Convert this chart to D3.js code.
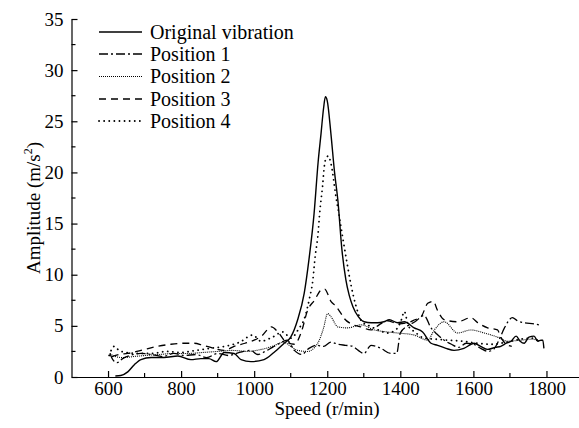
<!DOCTYPE html>
<html><head><meta charset="utf-8">
<script src="https://cdn.jsdelivr.net/npm/d3@7"></script>
<style>body{margin:0;background:#fff}svg{display:block}svg text{font-family:'Liberation Serif','Times New Roman','DejaVu Serif',serif !important;fill:#000}</style>
</head><body><svg id="c" width="579" height="428"></svg>
<script>
const seriesNames = ["Original vibration", "Position 1", "Position 2", "Position 3", "Position 4"];
const xTicks = [600, 800, 1000, 1200, 1400, 1600, 1800];
const yTicks = [0, 5, 10, 15, 20, 25, 30, 35];

const speedOrig = [620,635,654,672,690,718,753,791,827,854,876,896,918,945,964,991,1027,1054,1082,1100,1119,1137,1150,1164,1175,1183,1190,1195,1200,1210,1220,1229,1240,1251,1260,1270,1285,1301,1320,1338,1355,1370,1393,1411,1438,1461,1484,1502,1525,1547,1574,1602,1620,1639,1660,1675,1690,1703,1717,1728,1739,1752,1766,1776,1785,1790,1793];
const ampOrig = [0.1,0.15,0.5,1.2,1.7,1.9,1.9,2.05,1.7,1.8,1.8,1.5,2.4,2.3,1.7,1.5,1.7,2.4,3.3,3.9,5.6,8.2,11.5,16,21,23.8,26.3,27.4,27.0,23.8,20,17.3,12.5,9.5,8.0,6.9,5.9,5.4,5.3,5.3,5.4,5.6,5.3,5.4,4.8,4.4,3.3,3.1,2.8,2.6,2.8,3.3,3.0,2.7,2.9,3.0,3.3,3.5,4.0,3.5,3.3,3.9,4.0,3.5,3.6,3.6,2.8];

const speedP1 = [605,615,625,640,660,690,720,750,780,810,840,870,900,930,960,990,1010,1030,1050,1070,1090,1110,1130,1150,1170,1190,1210,1230,1250,1270,1285,1300,1320,1347,1374,1390,1400,1420,1440,1465,1484,1500,1520,1540,1560,1580,1600,1620,1640,1655,1670,1685,1707,1720,1739,1766,1780];
const ampP1 = [2.3,1.6,1.4,1.8,2.1,2.3,2.2,2.0,2.3,2.1,2.2,1.9,2.3,2.1,2.4,2.6,2.2,2.5,2.9,3.3,3.6,2.6,2.2,2.8,3.1,3.0,3.4,3.2,3.1,3.0,2.6,2.3,3.1,2.8,2.3,2.3,4.3,5.0,5.4,6.0,4.8,4.2,3.6,3.2,2.9,3.3,3.2,2.8,2.5,2.7,3.6,4.8,5.8,5.5,5.3,5.2,5.1];

const speedP2 = [605,620,640,670,700,740,780,820,860,900,940,980,1020,1050,1080,1100,1119,1146,1174,1190,1201,1210,1229,1256,1292,1329,1365,1393,1438,1475,1493,1520,1557,1593,1630,1666,1694,1730,1760,1780];
const ampP2 = [2.3,2.0,1.9,2.0,2.1,2.2,2.3,2.3,2.4,2.5,2.6,2.5,2.7,3.0,3.4,3.0,2.6,2.5,3.3,4.8,6.2,5.9,4.9,4.8,5.1,4.6,4.4,4.3,4.1,3.6,4.6,5.4,4.3,4.6,4.3,3.9,3.5,3.6,3.7,3.5];

const speedP3 = [610,630,654,690,736,772,808,836,860,890,918,945,975,1000,1020,1047,1065,1085,1110,1130,1146,1165,1183,1193,1210,1224,1238,1247,1265,1292,1320,1342,1365,1393,1420,1440,1457,1475,1490,1502,1520,1557,1593,1612,1639,1666,1675,1690,1705];
const ampP3 = [2.0,2.2,2.3,2.6,3.0,3.2,3.3,3.3,3.1,2.8,2.6,3.0,3.3,3.6,4.0,4.9,4.4,3.5,3.2,4.5,6.5,7.5,8.5,8.6,7.4,6.9,6.2,5.7,5.2,4.9,4.6,5.1,5.5,5.2,5.3,5.6,5.9,7.2,7.4,6.5,5.6,5.4,5.8,5.3,4.8,4.6,3.9,3.2,3.0];

const speedP4 = [603,617,630,650,680,720,760,800,840,880,920,960,996,1019,1050,1078,1101,1120,1140,1152,1160,1167,1174,1180,1187,1192,1197,1203,1210,1224,1233,1242,1251,1265,1279,1295,1315,1340,1365,1390,1402,1411,1422,1440,1465,1495,1530,1570,1610,1650,1690,1730,1760,1775];
const ampP4 = [2.1,3.0,2.6,2.4,2.3,2.3,2.5,2.4,2.6,2.8,3.0,3.4,4.1,3.5,3.9,4.4,3.8,4.6,6.0,7.8,9.3,11.8,13.7,16.3,18.6,20.6,21.4,21.6,20.9,17.6,15.7,13.7,11.8,9.0,6.9,5.4,5.0,4.6,4.3,4.7,5.5,6.4,5.0,4.4,3.8,3.7,3.6,3.5,3.3,3.2,3.4,3.7,3.8,3.6];

const series = [
  {name: seriesNames[0], xs: speedOrig, ys: ampOrig, dash: null, w: 1.4, cap: "butt"},
  {name: seriesNames[1], xs: speedP1, ys: ampP1, dash: "9,3,2,3", w: 1.3, cap: "butt"},
  {name: seriesNames[2], xs: speedP2, ys: ampP2, dash: "1,1", w: 1.1, cap: "butt"},
  {name: seriesNames[3], xs: speedP3, ys: ampP3, dash: "7,5", w: 1.3, cap: "butt"},
  {name: seriesNames[4], xs: speedP4, ys: ampP4, dash: "0.1,5", w: 1.8, cap: "round"}
];

const FONT = "'Liberation Serif','Times New Roman','DejaVu Serif',serif";
const svg = d3.select("#c");
const x = d3.scaleLinear().domain([500, 1900]).range([71.5, 583]);
const y = d3.scaleLinear().domain([0, 35]).range([377, 19]);

// axes
const xAxis = d3.axisBottom(x).tickValues(xTicks).tickSizeInner(-6).tickSizeOuter(0).tickPadding(10).tickFormat(d3.format("d"));
const gx = svg.append("g").attr("transform", "translate(0,377)").call(xAxis).attr("font-family", FONT);
gx.select(".domain").attr("stroke", "#000").attr("stroke-width", 1.2);
gx.selectAll(".tick line").attr("stroke", "#000").attr("stroke-width", 1.2);
gx.selectAll(".tick text").attr("font-size", 19).style("font-family", FONT).attr("dy", null).attr("y", 18);
const xMinor = d3.range(700, 1900, 200);
svg.append("g").selectAll("line").data(xMinor).join("line")
  .attr("x1", d => x(d)).attr("x2", d => x(d)).attr("y1", 377).attr("y2", 373)
  .attr("stroke", "#000").attr("stroke-width", 1.2);

const yAxis = d3.axisLeft(y).tickValues(yTicks).tickSizeInner(-6).tickSizeOuter(0).tickPadding(8);
const gy = svg.append("g").attr("transform", "translate(71.5,0)").call(yAxis).attr("font-family", FONT);
gy.select(".domain").attr("stroke", "#000").attr("stroke-width", 1.2);
gy.selectAll(".tick line").attr("stroke", "#000").attr("stroke-width", 1.2);
gy.selectAll(".tick text").attr("font-size", 19).style("font-family", FONT);
const yMinor = d3.range(2.5, 35, 5);
svg.append("g").selectAll("line").data(yMinor).join("line")
  .attr("x1", 71.5).attr("x2", 75.5).attr("y1", d => y(d)).attr("y2", d => y(d))
  .attr("stroke", "#000").attr("stroke-width", 1.2);

// titles
svg.append("text").attr("x", 327).attr("y", 415).attr("text-anchor", "middle").attr("font-size", 19).style("font-family", FONT).text("Speed (r/min)");
const yt = svg.append("text").attr("transform", "translate(40,208) rotate(-90)").attr("text-anchor", "middle").attr("font-size", 19).style("font-family", FONT);
yt.append("tspan").text("Amplitude  (m/s");
yt.append("tspan").attr("font-size", 12).attr("dy", -8).text("2");
yt.append("tspan").attr("dy", 8).text(")");

// lines
const line = d3.line().x(d => x(d[0])).y(d => y(d[1])).curve(d3.curveMonotoneX);
series.forEach(s => {
  const pts = s.xs.map((v, i) => [v, s.ys[i]]);
  svg.append("path").datum(pts).attr("d", line)
    .attr("fill", "none").attr("stroke", "#000").attr("stroke-width", s.w)
    .attr("stroke-dasharray", s.dash).attr("stroke-linecap", s.cap).attr("stroke-linejoin", "round");
});

// legend
const legY = [32, 54, 76.5, 99, 121];
const lg = svg.append("g");
series.forEach((s, i) => {
  lg.append("line").attr("x1", 99).attr("x2", 142).attr("y1", legY[i]).attr("y2", legY[i])
    .attr("stroke", "#000").attr("stroke-width", s.w).attr("stroke-dasharray", s.dash).attr("stroke-linecap", s.cap);
  lg.append("text").attr("x", 150).attr("y", legY[i] + 6.5).attr("font-size", 20).style("font-family", FONT).text(s.name);
});
</script></body></html>
